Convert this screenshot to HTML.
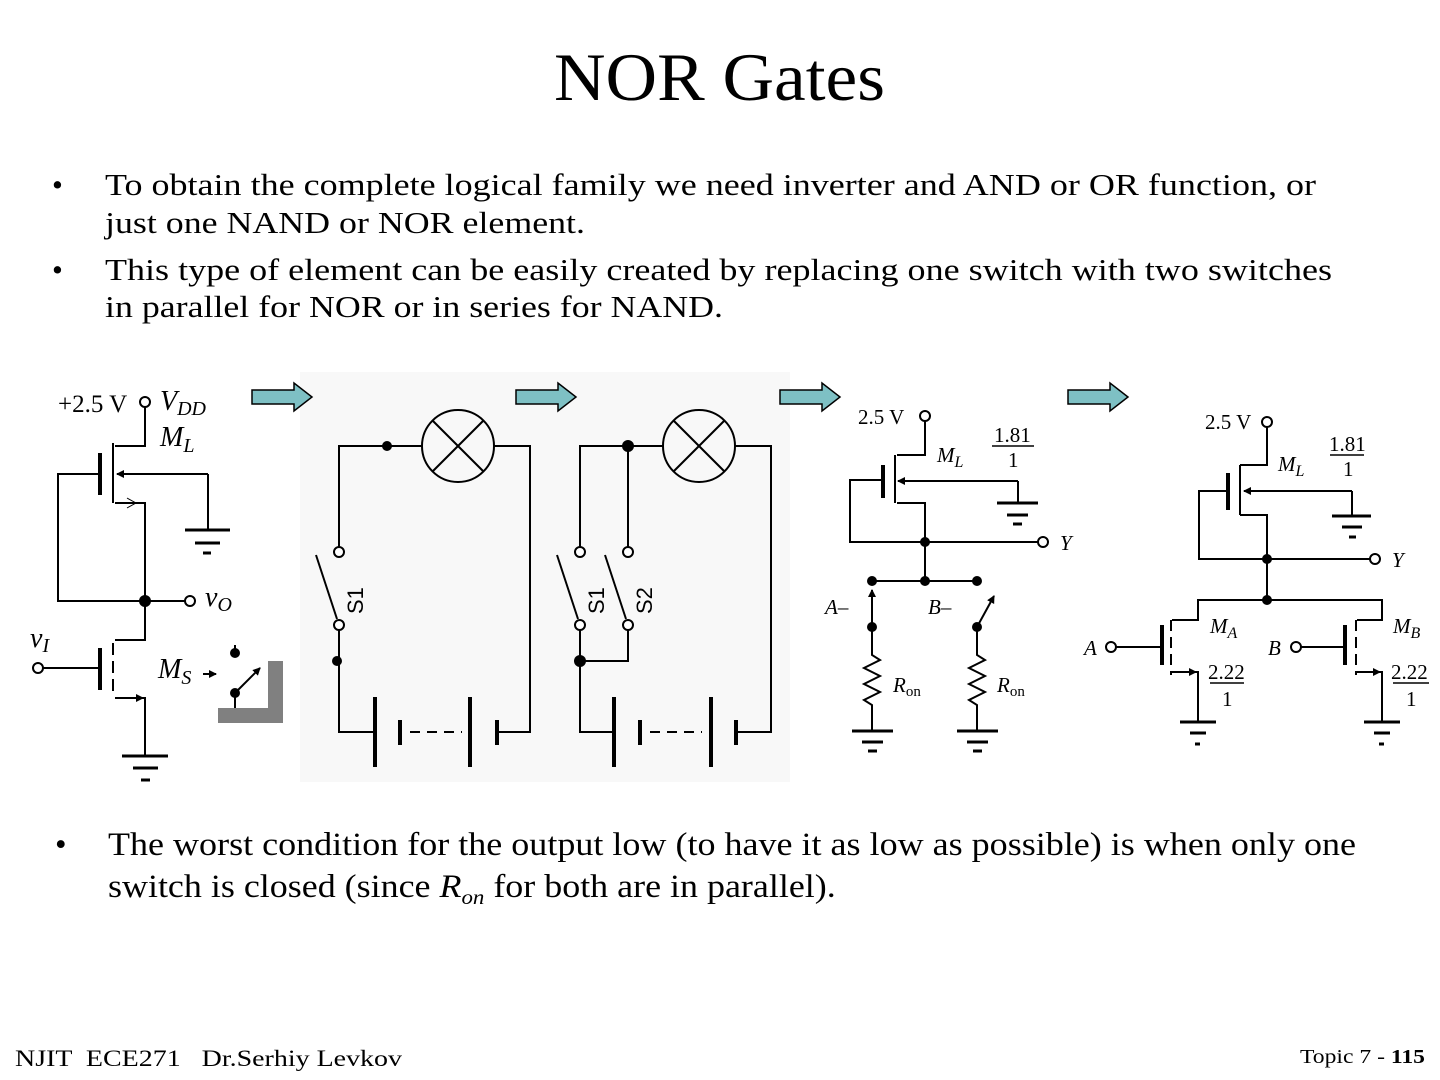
<!DOCTYPE html>
<html><head><meta charset="utf-8"><style>
html,body{margin:0;padding:0;background:#fff;}
body{width:1440px;height:1080px;position:relative;overflow:hidden;font-family:"Liberation Serif",serif;color:#000;}
</style></head><body>
<svg width="1440" height="1080" style="position:absolute;left:0;top:0" xmlns="http://www.w3.org/2000/svg" font-family="Liberation Serif, serif">
<defs>
<marker id="ah" markerWidth="8" markerHeight="8" refX="7" refY="4" orient="auto" markerUnits="userSpaceOnUse" viewBox="0 0 8 8"><path d="M0,0 L8,4 L0,8 z" fill="#000"/></marker>
</defs>
<text x="554" y="100" font-size="68" textLength="331" lengthAdjust="spacingAndGlyphs">NOR Gates</text>
<g font-size="31">
<text x="52" y="195">•</text>
<text x="105" y="195" textLength="1211" lengthAdjust="spacingAndGlyphs">To obtain the complete logical family we need inverter and AND or OR function, or</text>
<text x="105" y="233" textLength="480" lengthAdjust="spacingAndGlyphs">just one NAND or NOR element.</text>
<text x="52" y="280">•</text>
<text x="105" y="280" textLength="1227" lengthAdjust="spacingAndGlyphs">This type of element can be easily created by replacing one switch with two switches</text>
<text x="105" y="317" textLength="618" lengthAdjust="spacingAndGlyphs">in parallel for NOR or in series for NAND.</text>
</g>
<g font-size="33">
<text x="55" y="855">•</text>
<text x="108" y="855" textLength="1248" lengthAdjust="spacingAndGlyphs">The worst condition for the output low (to have it as low as possible) is when only one</text>
<g transform="translate(108,897) scale(1.09,1)">
<text x="0" y="0">switch is closed (since <tspan font-style="italic">R</tspan><tspan font-style="italic" font-size="21" dy="7">on</tspan><tspan dy="-7"> for both are in parallel).</tspan></text>
</g>
</g>
<text x="15" y="1066" font-size="23" style="white-space:pre" xml:space="preserve" textLength="387" lengthAdjust="spacingAndGlyphs">NJIT  ECE271   Dr.Serhiy Levkov</text>
<text x="1300" y="1063" font-size="20" textLength="125" lengthAdjust="spacingAndGlyphs">Topic 7 - <tspan font-weight="bold">115</tspan></text>

<rect x="300" y="372" width="490" height="410" fill="#f8f8f8"/>
<g fill="#7ec0c4" stroke="#000" stroke-width="1.5">
<path d="M252,390 h42 v-7 l18,14 l-18,14 v-7 h-42 z"/>
<path d="M516,390 h42 v-7 l18,14 l-18,14 v-7 h-42 z"/>
<path d="M780,390 h42 v-7 l18,14 l-18,14 v-7 h-42 z"/>
<path d="M1068,390 h42 v-7 l18,14 l-18,14 v-7 h-42 z"/>
</g>
<g stroke="#000" stroke-width="2" fill="none">
<circle cx="145" cy="402" r="5" fill="#fff"/>
<polyline points="145,407 145,446 115,446"/>
<line x1="113" y1="443" x2="113" y2="503"/>
<polyline points="115,503 145,503 145,601"/>
<line x1="100" y1="453" x2="100" y2="495" stroke-width="4"/>
<polyline points="100,474 58,474 58,601 185,601"/>
<line x1="208" y1="474" x2="117" y2="474" marker-end="url(#ah)"/>
<line x1="208" y1="474" x2="208" y2="530"/>
<line x1="185" y1="530" x2="230" y2="530" stroke-width="3"/>
<line x1="195" y1="543" x2="220" y2="543" stroke-width="3"/>
<line x1="203" y1="553" x2="211" y2="553" stroke-width="3"/>
<path d="M127,498 L136,503 L127,508" stroke-width="1"/>
<circle cx="190" cy="601" r="5" fill="#fff"/>
<polyline points="145,601 145,640 115,640"/>
<line x1="113" y1="643" x2="113" y2="693" stroke-dasharray="12,6"/>
<polyline points="115,698 145,698 145,755"/>
<line x1="115" y1="698" x2="143" y2="698" marker-end="url(#ah)"/>
<line x1="122" y1="756" x2="168" y2="756" stroke-width="3"/>
<line x1="133" y1="768" x2="158" y2="768" stroke-width="3"/>
<line x1="141" y1="780" x2="150" y2="780" stroke-width="3"/>
<line x1="100" y1="648" x2="100" y2="690" stroke-width="4"/>
<line x1="43" y1="668" x2="100" y2="668"/>
<circle cx="38" cy="668" r="5" fill="#fff"/>
<line x1="203" y1="674" x2="216" y2="674" marker-end="url(#ah)"/>
<line x1="235" y1="693" x2="260" y2="668" marker-end="url(#ah)"/>
<line x1="235" y1="645" x2="235" y2="652"/>
<line x1="235" y1="693" x2="235" y2="708"/>
<polyline points="339,547 339,446 422,446"/>
<circle cx="458" cy="446" r="36"/>
<line x1="433" y1="421" x2="483" y2="471"/><line x1="483" y1="421" x2="433" y2="471"/>
<polyline points="494,446 530,446 530,732 497,732"/>
<circle cx="339" cy="552" r="5" fill="#fff"/>
<line x1="316" y1="555" x2="337" y2="619"/>
<circle cx="339" cy="625" r="5" fill="#fff"/>
<polyline points="339,630 339,732 375,732"/>
<line x1="375" y1="697" x2="375" y2="767" stroke-width="4"/>
<line x1="400" y1="720" x2="400" y2="745" stroke-width="4"/>
<line x1="410" y1="732" x2="462" y2="732" stroke-dasharray="10,7"/>
<line x1="470" y1="697" x2="470" y2="767" stroke-width="4"/>
<line x1="497" y1="720" x2="497" y2="745" stroke-width="4"/>
<polyline points="580,547 580,446 663,446"/>
<circle cx="699" cy="446" r="36"/>
<line x1="674" y1="421" x2="724" y2="471"/><line x1="724" y1="421" x2="674" y2="471"/>
<polyline points="735,446 771,446 771,732 736,732"/>
<circle cx="580" cy="552" r="5" fill="#fff"/>
<line x1="557" y1="555" x2="578" y2="619"/>
<circle cx="580" cy="625" r="5" fill="#fff"/>
<polyline points="580,630 580,732 614,732"/>
<line x1="628" y1="446" x2="628" y2="547"/>
<circle cx="628" cy="552" r="5" fill="#fff"/>
<line x1="605" y1="555" x2="626" y2="619"/>
<circle cx="628" cy="625" r="5" fill="#fff"/>
<polyline points="628,630 628,661 580,661"/>
<line x1="614" y1="697" x2="614" y2="767" stroke-width="4"/>
<line x1="640" y1="720" x2="640" y2="745" stroke-width="4"/>
<line x1="650" y1="732" x2="702" y2="732" stroke-dasharray="10,7"/>
<line x1="711" y1="697" x2="711" y2="767" stroke-width="4"/>
<line x1="736" y1="720" x2="736" y2="745" stroke-width="4"/>
<circle cx="925" cy="416" r="5" fill="#fff"/>
<polyline points="925,421 925,455 897,455"/>
<line x1="895" y1="455" x2="895" y2="503"/>
<polyline points="897,503 925,503 925,581"/>
<line x1="883" y1="465" x2="883" y2="498" stroke-width="4"/>
<polyline points="883,480 850,480 850,542 1038,542"/>
<circle cx="1043" cy="542" r="5" fill="#fff"/>
<line x1="1018" y1="481" x2="898" y2="481" marker-end="url(#ah)"/>
<line x1="1018" y1="481" x2="1018" y2="503"/>
<line x1="997" y1="503" x2="1038" y2="503" stroke-width="3"/>
<line x1="1007" y1="515" x2="1028" y2="515" stroke-width="3"/>
<line x1="1013" y1="524" x2="1022" y2="524" stroke-width="3"/>
<line x1="992" y1="446" x2="1034" y2="446" stroke-width="1.5"/>
<line x1="872" y1="581" x2="977" y2="581"/>
<line x1="872" y1="627" x2="872" y2="590" marker-end="url(#ah)"/>
<polyline points="872,627 872,655 880,660 864,668 880,676 864,684 880,692 864,700 872,705 872,731"/>
<line x1="852" y1="731" x2="893" y2="731" stroke-width="3"/>
<line x1="862" y1="742" x2="883" y2="742" stroke-width="3"/>
<line x1="868" y1="751" x2="877" y2="751" stroke-width="3"/>
<line x1="977" y1="627" x2="994" y2="596" marker-end="url(#ah)"/>
<polyline points="977,627 977,655 985,660 969,668 985,676 969,684 985,692 969,700 977,705 977,731"/>
<line x1="957" y1="731" x2="998" y2="731" stroke-width="3"/>
<line x1="967" y1="742" x2="988" y2="742" stroke-width="3"/>
<line x1="973" y1="751" x2="982" y2="751" stroke-width="3"/>
<circle cx="1267" cy="422" r="5" fill="#fff"/>
<polyline points="1267,427 1267,465 1240,465"/>
<line x1="1240" y1="465" x2="1240" y2="515"/>
<polyline points="1240,515 1267,515 1267,600"/>
<line x1="1228" y1="473" x2="1228" y2="510" stroke-width="4"/>
<polyline points="1228,491 1199,491 1199,559 1371,559"/>
<circle cx="1375" cy="559" r="5" fill="#fff"/>
<line x1="1352" y1="491" x2="1244" y2="491" marker-end="url(#ah)"/>
<line x1="1352" y1="491" x2="1352" y2="516"/>
<line x1="1332" y1="516" x2="1371" y2="516" stroke-width="3"/>
<line x1="1342" y1="527" x2="1362" y2="527" stroke-width="3"/>
<line x1="1349" y1="537" x2="1356" y2="537" stroke-width="3"/>
<line x1="1330" y1="455" x2="1364" y2="455" stroke-width="1.5"/>
<polyline points="1172,620 1198,620 1198,600 1382,600 1382,620 1357,620"/>
<line x1="1171" y1="620" x2="1171" y2="675" stroke-dasharray="11,6"/>
<line x1="1162" y1="625" x2="1162" y2="665" stroke-width="4"/>
<line x1="1116" y1="647" x2="1162" y2="647"/>
<circle cx="1111" cy="647" r="5" fill="#fff"/>
<line x1="1172" y1="672" x2="1196" y2="672" marker-end="url(#ah)"/>
<polyline points="1190,672 1198,672 1198,722"/>
<line x1="1180" y1="722" x2="1216" y2="722" stroke-width="3"/>
<line x1="1190" y1="733" x2="1206" y2="733" stroke-width="3"/>
<line x1="1195" y1="744" x2="1200" y2="744" stroke-width="3"/>
<line x1="1210" y1="683" x2="1244" y2="683" stroke-width="1.5"/>
<line x1="1356" y1="620" x2="1356" y2="675" stroke-dasharray="11,6"/>
<line x1="1345" y1="625" x2="1345" y2="665" stroke-width="4"/>
<line x1="1301" y1="647" x2="1345" y2="647"/>
<circle cx="1296" cy="647" r="5" fill="#fff"/>
<line x1="1357" y1="672" x2="1380" y2="672" marker-end="url(#ah)"/>
<polyline points="1375,672 1382,672 1382,722"/>
<line x1="1364" y1="722" x2="1400" y2="722" stroke-width="3"/>
<line x1="1374" y1="733" x2="1390" y2="733" stroke-width="3"/>
<line x1="1379" y1="744" x2="1384" y2="744" stroke-width="3"/>
<line x1="1393" y1="683" x2="1429" y2="683" stroke-width="1.5"/>
</g>
<g fill="#000">
<circle cx="145" cy="601" r="6"/>
<circle cx="235" cy="653" r="5"/><circle cx="235" cy="693" r="5"/>
<circle cx="387" cy="446" r="5"/><circle cx="337" cy="661" r="5"/>
<circle cx="628" cy="446" r="6"/><circle cx="580" cy="661" r="6"/>
<circle cx="925" cy="542" r="5"/><circle cx="925" cy="581" r="5"/>
<circle cx="872" cy="581" r="5"/><circle cx="977" cy="581" r="5"/>
<circle cx="872" cy="627" r="5"/><circle cx="977" cy="627" r="5"/>
<circle cx="1267" cy="559" r="5"/><circle cx="1267" cy="600" r="5"/>
<rect x="218" y="708" width="65" height="15" fill="#808080"/>
<rect x="268" y="661" width="15" height="62" fill="#808080"/>
</g>
<g font-size="25">
<text x="58" y="412">+2.5 V</text>
<text x="160" y="410" font-style="italic" font-size="28">V<tspan font-size="20" dy="5">DD</tspan></text>
<text x="160" y="446" font-style="italic" font-size="28">M<tspan font-size="20" dy="6">L</tspan></text>
<text x="205" y="606" font-style="italic" font-size="28">v<tspan font-size="20" dy="5">O</tspan></text>
<text x="30" y="647" font-style="italic" font-size="28">v<tspan font-size="20" dy="5">I</tspan></text>
<text x="158" y="678" font-style="italic" font-size="28">M<tspan font-size="20" dy="6">S</tspan></text>
</g>
<g font-family="Liberation Sans, sans-serif" font-size="22">
<text transform="translate(363,614) rotate(-90)">S1</text>
<text transform="translate(604,614) rotate(-90)">S1</text>
<text transform="translate(652,614) rotate(-90)">S2</text>
</g>
<g font-size="21">
<text x="858" y="424">2.5 V</text>
<text x="937" y="462" font-style="italic">M<tspan font-size="16" dy="5">L</tspan></text>
<text x="994" y="442">1.81</text><text x="1008" y="467">1</text>
<text x="1060" y="550" font-style="italic">Y</text>
<text x="825" y="614" font-style="italic">A–</text>
<text x="928" y="614" font-style="italic">B–</text>
<text x="893" y="692" font-style="italic">R<tspan font-size="15" font-style="normal" dy="4">on</tspan></text>
<text x="997" y="692" font-style="italic">R<tspan font-size="15" font-style="normal" dy="4">on</tspan></text>
<text x="1205" y="429">2.5 V</text>
<text x="1278" y="471" font-style="italic">M<tspan font-size="16" dy="5">L</tspan></text>
<text x="1329" y="451">1.81</text><text x="1343" y="476">1</text>
<text x="1392" y="567" font-style="italic">Y</text>
<text x="1210" y="633" font-style="italic">M<tspan font-size="16" dy="5">A</tspan></text>
<text x="1393" y="633" font-style="italic">M<tspan font-size="16" dy="5">B</tspan></text>
<text x="1084" y="655" font-style="italic">A</text>
<text x="1268" y="655" font-style="italic">B</text>
<text x="1208" y="679">2.22</text><text x="1222" y="706">1</text>
<text x="1391" y="679">2.22</text><text x="1406" y="706">1</text>
</g>
</svg>
</body></html>
